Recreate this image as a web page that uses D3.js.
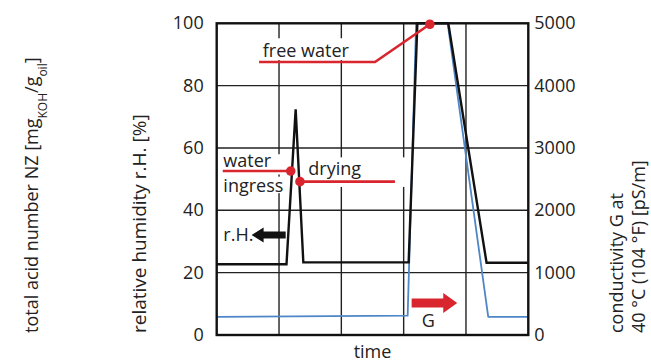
<!DOCTYPE html>
<html>
<head>
<meta charset="utf-8">
<script src="https://cdn.jsdelivr.net/npm/d3@7"></script>
<style>
  body { margin: 0; background: #fff; }
  svg text { font-family: "Open Sans", sans-serif; fill: #222; }
</style>
</head>
<body>
<svg id="chart" width="651" height="364"></svg>
<script>
// relative humidity r.H. [%] over time (left axis)
const rhTime = [0, 1.12, 1.267, 1.39, 3.08, 3.22, 3.716, 4.33, 5];
const rhValues = [22.7, 22.7, 72.4, 23.3, 23.3, 100, 100, 23.2, 23.2];

// conductivity G [pS/m] over time (right axis)
const gTime = [0, 3.064, 3.2, 3.706, 4.357, 5];
const gValues = [290, 310, 5000, 5000, 290, 290];

const rhTicks = [0, 20, 40, 60, 80, 100];
const gTicks = [0, 1000, 2000, 3000, 4000, 5000];
const timeGrid = [1, 2, 3, 4];

// annotations, in (time, r.H.) units
const annoFree = { text: ["free water"], tx: 0.74, ty: 89.3, lineFrom: 0.68, lineTo: 2.54, lineY: 87.6, dotT: 3.42, dotV: 99.7 };
const annoIngress = { text: ["water", "ingress"], tx: 0.107, ty: 54.0, lineFrom: 0.097, lineTo: 1.188, lineY: 52.6, dotT: 1.188, dotV: 52.6 };
const annoDrying = { text: ["drying"], tx: 1.47, ty: 51.3, lineFrom: 1.336, lineTo: 2.86, lineY: 49.2, dotT: 1.336, dotV: 49.2 };
const arrowRH = { label: "r.H.", tx: 0.107, from: 1.107, to: 0.56, y: 32.1 };
const arrowG = { label: "G", tx: 3.29, ty: 2.6, from: 3.128, to: 3.86, y: 10.3 };

const svg = d3.select("#chart");
const margin = { left: 216.7, right: 651 - 528.3, top: 23.3, bottom: 364 - 335 };
const w = 651 - margin.left - margin.right;
const h = 364 - margin.top - margin.bottom;

const x = d3.scaleLinear().domain([0, 5]).range([margin.left, margin.left + w]);
const yL = d3.scaleLinear().domain([0, 100]).range([margin.top + h, margin.top]);
const yR = d3.scaleLinear().domain([0, 5000]).range([margin.top + h, margin.top]);

const red = "#d9262e";
const blue = "#4f86c8";
const fs = 18;

// grid
const grid = svg.append("g").attr("stroke", "#222").attr("stroke-width", 1.4);
grid.selectAll(".hg").data(rhTicks.slice(1, -1)).enter().append("line")
  .attr("x1", x(0)).attr("x2", x(5))
  .attr("y1", d => yL(d)).attr("y2", d => yL(d));
grid.selectAll(".vg").data(timeGrid).enter().append("line")
  .attr("y1", yL(0)).attr("y2", yL(100))
  .attr("x1", d => x(d)).attr("x2", d => x(d));

// white boxes behind the labels (they break the grid)
function labelBox(t0, t1, v0, v1) {
  svg.append("rect")
    .attr("x", x(t0)).attr("y", yL(v1))
    .attr("width", x(t1) - x(t0)).attr("height", yL(v0) - yL(v1))
    .attr("fill", "#fff");
}
labelBox(0.68, 2.25, 88.2, 95.2);
labelBox(0.05, 1.04, 51.5, 58.0);
labelBox(0.05, 1.04, 45.5, 50.8);
labelBox(1.34, 3.05, 47.5, 57.0);

// data lines
const lineG = d3.line().x((d, i) => x(gTime[i])).y(d => yR(d));
svg.append("path").datum(gValues)
  .attr("d", lineG).attr("fill", "none")
  .attr("stroke", blue).attr("stroke-width", 1.8).attr("stroke-linejoin", "round");

const lineRH = d3.line().x((d, i) => x(rhTime[i])).y(d => yL(d));
svg.append("path").datum(rhValues)
  .attr("d", lineRH).attr("fill", "none")
  .attr("stroke", "#111").attr("stroke-width", 2.4).attr("stroke-linejoin", "miter");

// frame
svg.append("rect")
  .attr("x", x(0)).attr("y", yL(100))
  .attr("width", w).attr("height", h)
  .attr("fill", "none").attr("stroke", "#111").attr("stroke-width", 2.4);

// axes
const axL = svg.append("g").attr("transform", `translate(${x(0) - 13},0)`)
  .call(d3.axisLeft(yL).tickValues(rhTicks).tickSize(0).tickPadding(0));
const axR = svg.append("g").attr("transform", `translate(${x(5) + 6},0)`)
  .call(d3.axisRight(yR).tickValues(gTicks).tickFormat(d3.format("d")).tickSize(0).tickPadding(0));
[axL, axR].forEach(ax => {
  ax.select(".domain").remove();
  ax.selectAll("text")
    .style("font-family", '"Open Sans", sans-serif')
    .style("font-size", fs + "px").attr("fill", "#222")
    .attr("dy", "0.3em");
});

// axis titles
svg.append("text").attr("x", x(2.5)).attr("y", 358)
  .attr("text-anchor", "middle").style("font-size", fs + "px").text("time");

function rotated(cx, txt, size) {
  return svg.append("text")
    .attr("transform", `translate(${cx},333) rotate(-90)`)
    .attr("text-anchor", "start")
    .style("font-size", (size || fs) + "px")
    .text(txt);
}
rotated(146, "relative humidity r.H. [%]", 19);
const nz = rotated(38, "total acid number NZ [mg");
nz.append("tspan").attr("baseline-shift", "sub").style("font-size", "12px").text("KOH");
nz.append("tspan").text("/g");
nz.append("tspan").attr("baseline-shift", "sub").style("font-size", "12px").text("oil");
nz.append("tspan").text("]");
rotated(623, "conductivity G at");
rotated(645, "40 °C (104 °F) [pS/m]");

// red leaders with dots
[annoFree, annoIngress, annoDrying].forEach(a => {
  const pts = [[a.lineFrom, a.lineY], [a.lineTo, a.lineY], [a.dotT, a.dotV]];
  svg.append("path")
    .attr("d", d3.line().x(d => x(d[0])).y(d => yL(d[1]))(pts))
    .attr("fill", "none").attr("stroke", red).attr("stroke-width", 2.6);
  svg.append("circle").attr("cx", x(a.dotT)).attr("cy", yL(a.dotV))
    .attr("r", 4.8).attr("fill", red);
  const t = svg.append("text").attr("x", x(a.tx)).attr("y", yL(a.ty))
    .style("font-size", fs + "px");
  a.text.forEach((s, i) => {
    t.append("tspan").attr("x", x(a.tx)).attr("dy", i === 0 ? 0 : 25).text(s);
  });
});

// block arrows
function blockArrow(a, color, shaft, headH, headL) {
  const x0 = x(a.from), x1 = x(a.to), yy = yL(a.y);
  const dir = Math.sign(x1 - x0);
  const xb = x1 - dir * headL;
  const pts = [
    [x0, yy - shaft / 2], [xb, yy - shaft / 2], [xb, yy - headH / 2], [x1, yy],
    [xb, yy + headH / 2], [xb, yy + shaft / 2], [x0, yy + shaft / 2]
  ];
  svg.append("path").attr("d", "M" + pts.join("L") + "Z").attr("fill", color);
}
blockArrow(arrowRH, "#111", 7, 15, 12);
svg.append("text").attr("x", x(arrowRH.tx)).attr("y", yL(arrowRH.y)).attr("dy", "0.35em")
  .style("font-size", fs + "px").text(arrowRH.label);

blockArrow(arrowG, red, 9, 20, 14);
svg.append("text").attr("x", x(arrowG.tx)).attr("y", yL(arrowG.ty))
  .style("font-size", fs + "px").text(arrowG.label);
</script>
</body>
</html>
